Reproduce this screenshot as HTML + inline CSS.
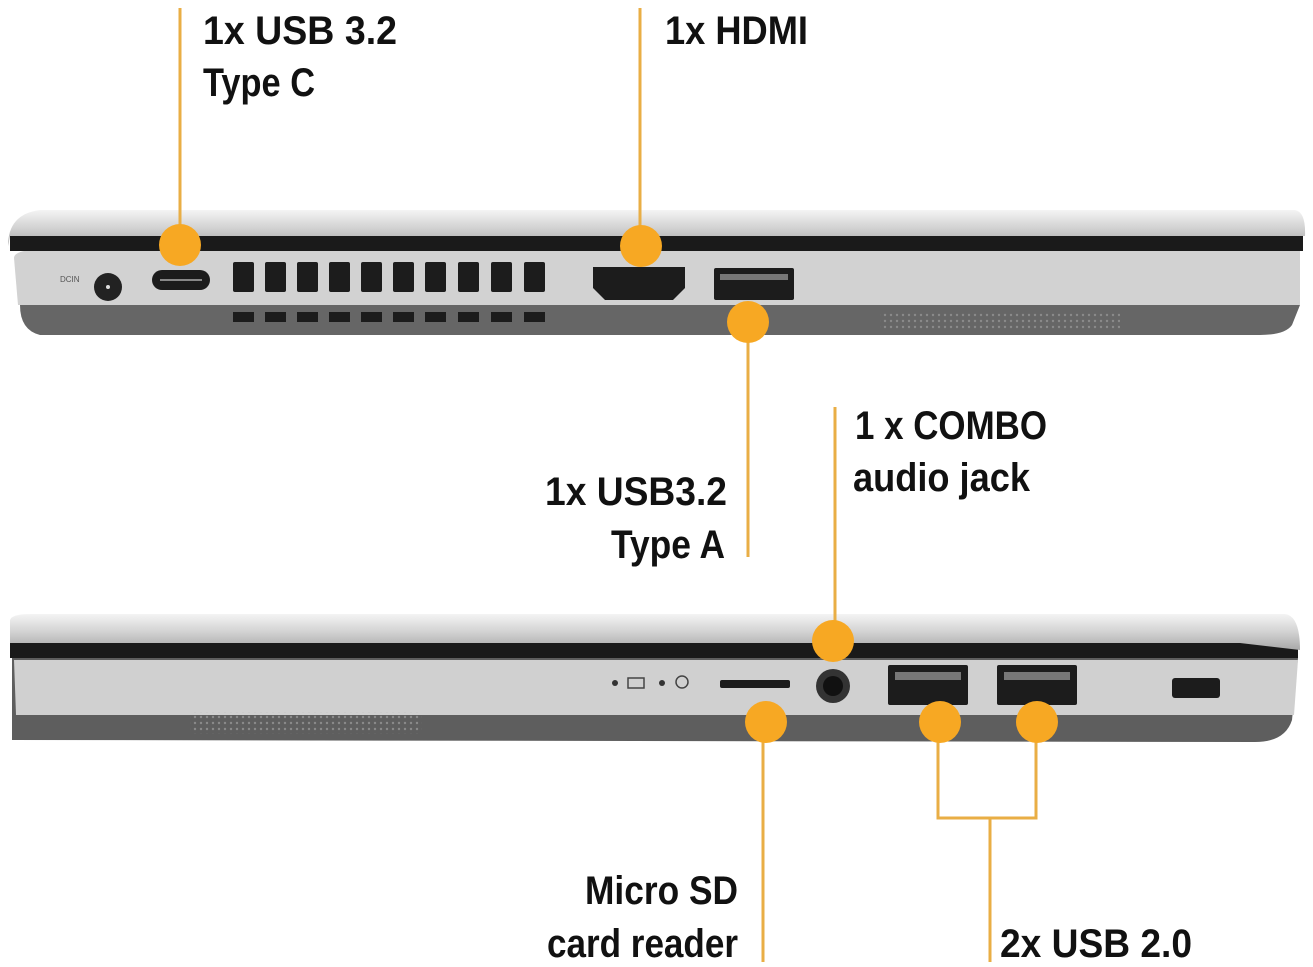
<!DOCTYPE html>
<html><head><meta charset="utf-8"><style>html,body{margin:0;padding:0;background:#fff}svg{display:block}</style></head>
<body>
<svg width="1313" height="967" viewBox="0 0 1313 967" xmlns="http://www.w3.org/2000/svg">
<defs>
<linearGradient id="lid" x1="0" y1="0" x2="0" y2="1">
<stop offset="0" stop-color="#f4f4f4"/><stop offset="0.5" stop-color="#d2d2d2"/><stop offset="1" stop-color="#a8a8a8"/></linearGradient>
<pattern id="dots" width="6" height="6" patternUnits="userSpaceOnUse"><circle cx="3" cy="3" r="1.2" fill="#8a8a8a"/></pattern>
</defs>
<g font-family="'Liberation Sans Narrow','Liberation Sans',sans-serif" font-weight="bold" font-size="40" fill="#111">
<text x="203" y="44" textLength="194" lengthAdjust="spacingAndGlyphs">1x USB 3.2</text>
<text x="203" y="96" textLength="112" lengthAdjust="spacingAndGlyphs">Type C</text>
<text x="665" y="44" textLength="143" lengthAdjust="spacingAndGlyphs">1x HDMI</text>
<text x="545" y="505" textLength="182" lengthAdjust="spacingAndGlyphs">1x USB3.2</text>
<text x="611" y="558" textLength="114" lengthAdjust="spacingAndGlyphs">Type A</text>
<text x="855" y="439" textLength="192" lengthAdjust="spacingAndGlyphs">1 x COMBO</text>
<text x="853" y="491" textLength="177" lengthAdjust="spacingAndGlyphs">audio jack</text>
<text x="585" y="904" textLength="153" lengthAdjust="spacingAndGlyphs">Micro SD</text>
<text x="547" y="957" textLength="191" lengthAdjust="spacingAndGlyphs">card reader</text>
<text x="1000" y="957" textLength="192" lengthAdjust="spacingAndGlyphs">2x USB 2.0</text>
</g>

<!-- top laptop -->
<path d="M14,258 Q14,252 30,250 L1300,250 L1300,305 L18,305 Z" fill="#d2d2d2"/>
<path d="M20,305 L1300,305 L1292,325 Q1285,335 1260,335 L40,335 Q20,330 20,305Z" fill="#666"/>
<rect x="10" y="236" width="1293" height="15" fill="#1a1a1a"/>
<path d="M8,246 Q8,214 40,210 L1295,210 Q1306,212 1305,236 L10,236 Z" fill="url(#lid)"/>
<rect x="880" y="312" width="240" height="18" fill="url(#dots)"/>
<circle cx="108" cy="287" r="14" fill="#222"/><circle cx="108" cy="287" r="2" fill="#ddd"/>
<text x="60" y="282" font-size="8" fill="#555" font-family="Liberation Sans">DCIN</text>
<rect x="152" y="270" width="58" height="20" rx="10" fill="#1c1c1c"/><rect x="160" y="279" width="42" height="2" fill="#888"/>
<g fill="#1c1c1c">
<rect x="233" y="262" width="21" height="30" rx="2"/><rect x="265" y="262" width="21" height="30" rx="2"/><rect x="297" y="262" width="21" height="30" rx="2"/><rect x="329" y="262" width="21" height="30" rx="2"/><rect x="361" y="262" width="21" height="30" rx="2"/><rect x="393" y="262" width="21" height="30" rx="2"/><rect x="425" y="262" width="21" height="30" rx="2"/><rect x="458" y="262" width="21" height="30" rx="2"/><rect x="491" y="262" width="21" height="30" rx="2"/><rect x="524" y="262" width="21" height="30" rx="2"/>
<rect x="233" y="312" width="21" height="10"/><rect x="265" y="312" width="21" height="10"/><rect x="297" y="312" width="21" height="10"/><rect x="329" y="312" width="21" height="10"/><rect x="361" y="312" width="21" height="10"/><rect x="393" y="312" width="21" height="10"/><rect x="425" y="312" width="21" height="10"/><rect x="458" y="312" width="21" height="10"/><rect x="491" y="312" width="21" height="10"/><rect x="524" y="312" width="21" height="10"/>
<path d="M593,267 L685,267 L685,288 L673,300 L605,300 L593,288 Z"/>
<rect x="714" y="268" width="80" height="32" rx="2"/>
</g>
<rect x="720" y="274" width="68" height="6" fill="#777"/>

<!-- bottom laptop -->
<path d="M12,740 L12,658 L1298,658 L1292,720 Q1285,742 1255,742 Z" fill="#5e5e5e"/>
<path d="M14,660 L1298,660 L1294,715 L16,715 Z" fill="#d0d0d0"/>
<rect x="190" y="712" width="232" height="22" fill="url(#dots)"/>
<rect x="10" y="643" width="1288" height="15" fill="#1a1a1a"/>
<path d="M10,643 L10,620 Q12,614 30,614 L1285,614 Q1300,616 1300,650 L1240,643 Z" fill="url(#lid)"/>
<circle cx="615" cy="683" r="3" fill="#333"/><rect x="628" y="678" width="16" height="10" fill="none" stroke="#444" stroke-width="1.5"/><circle cx="662" cy="683" r="3" fill="#333"/><circle cx="682" cy="682" r="6" fill="none" stroke="#444" stroke-width="1.5"/>
<rect x="720" y="680" width="70" height="8" rx="2" fill="#1c1c1c"/>
<circle cx="833" cy="686" r="17" fill="#333"/><circle cx="833" cy="686" r="10" fill="#111"/>
<rect x="888" y="665" width="80" height="40" rx="2" fill="#1c1c1c"/><rect x="895" y="672" width="66" height="8" fill="#777"/>
<rect x="997" y="665" width="80" height="40" rx="2" fill="#1c1c1c"/><rect x="1004" y="672" width="66" height="8" fill="#777"/>
<rect x="1172" y="678" width="48" height="20" rx="3" fill="#1c1c1c"/>

<!-- connectors -->
<g stroke="#e9ae45" stroke-width="3" fill="none">
<line x1="180" y1="8" x2="180" y2="245"/>
<line x1="640" y1="8" x2="640" y2="245"/>
<line x1="748" y1="322" x2="748" y2="557"/>
<line x1="835" y1="407" x2="835" y2="640"/>
<line x1="763" y1="722" x2="763" y2="962"/>
<polyline points="938,722 938,818 1036,818 1036,722"/>
<line x1="990" y1="818" x2="990" y2="962"/>
</g>
<g fill="#f7a823">
<circle cx="180" cy="245" r="21"/><circle cx="641" cy="246" r="21"/><circle cx="748" cy="322" r="21"/>
<circle cx="833" cy="641" r="21"/><circle cx="766" cy="722" r="21"/><circle cx="940" cy="722" r="21"/><circle cx="1037" cy="722" r="21"/>
</g>
</svg>
</body></html>
